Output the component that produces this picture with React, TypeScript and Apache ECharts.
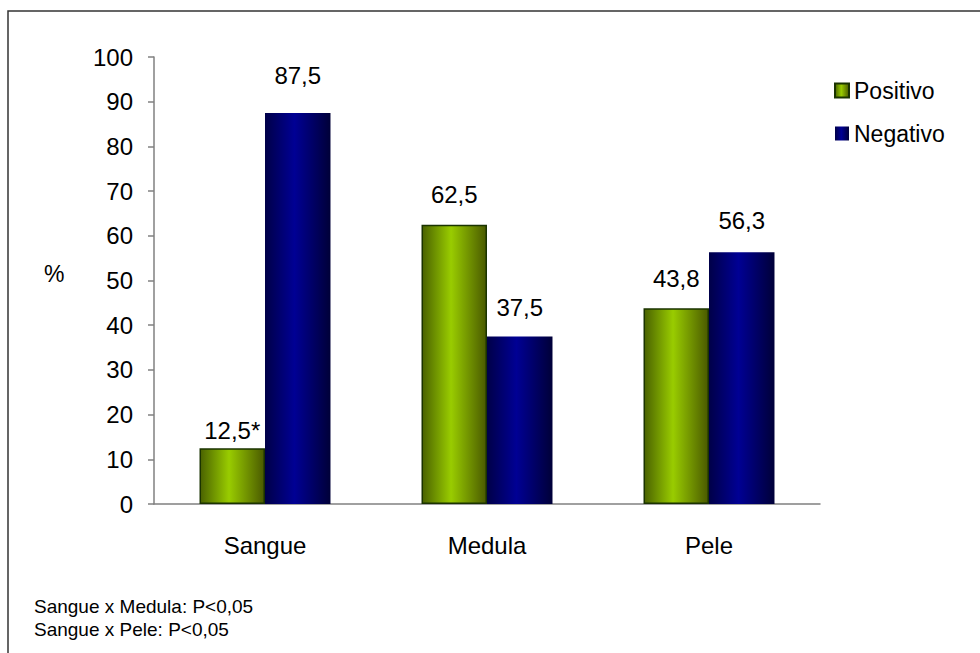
import React, { useEffect, useRef } from "react";
import * as echarts from "echarts";

const categories = ["Sangue", "Medula", "Pele"];
const positivo = [12.5, 62.5, 43.8];
const negativo = [87.5, 37.5, 56.3];
const positivoLabels = ["12,5*", "62,5", "43,8"];
const negativoLabels = ["87,5", "37,5", "56,3"];
const footnotes = ["Sangue x Medula: P<0,05", "Sangue x Pele: P<0,05"];

const FONT = "Liberation Sans, Arial, sans-serif";

export default function App() {
  const ref = useRef<HTMLDivElement>(null);
  useEffect(() => {
    if (!ref.current) return;
    const chart = echarts.init(ref.current, undefined, { renderer: "svg" });
    const green = new echarts.graphic.LinearGradient(0, 0, 1, 0, [
      { offset: 0, color: "#4a6200" },
      { offset: 0.45, color: "#99cc00" },
      { offset: 1, color: "#4a5a00" },
    ]);
    const blue = new echarts.graphic.LinearGradient(0, 0, 1, 0, [
      { offset: 0, color: "#000048" },
      { offset: 0.45, color: "#000094" },
      { offset: 1, color: "#000038" },
    ]);
    chart.setOption({
      animation: false,
      textStyle: { fontFamily: FONT },
      grid: { left: 154, right: 160, top: 57, bottom: 149 },
      legend: {
        orient: "vertical",
        left: 829,
        top: 74,
        itemWidth: 14,
        itemHeight: 14,
        itemGap: 20,
        icon: "rect",
        textStyle: { fontSize: 23, color: "#000", fontFamily: FONT },
        data: ["Positivo", "Negativo"],
      },
      xAxis: {
        type: "category",
        data: categories,
        axisLine: { lineStyle: { color: "#808080", width: 1.5 } },
        axisTick: { length: 6, lineStyle: { color: "#808080", width: 1.5 } },
        axisLabel: { fontSize: 24, color: "#000", margin: 29, fontFamily: FONT },
      },
      yAxis: {
        type: "value",
        min: 0,
        max: 100,
        interval: 10,
        splitLine: { show: false },
        axisLine: { show: true, lineStyle: { color: "#808080", width: 1.5 } },
        axisTick: { show: true, length: 6, lineStyle: { color: "#808080", width: 1.5 } },
        axisLabel: { fontSize: 24, color: "#000", margin: 21, fontFamily: FONT },
      },
      series: [
        {
          name: "Positivo",
          type: "bar",
          barGap: "0%",
          barCategoryGap: "41%",
          itemStyle: { color: green, borderColor: "#1a3300", borderWidth: 1.5 },
          label: {
            show: true,
            position: "top",
            distance: 18,
            fontSize: 24,
            color: "#000",
            fontFamily: FONT,
          },
          data: positivo.map((v, i) => ({
            value: v,
            label: { formatter: positivoLabels[i], distance: i === 0 ? 6 : 18 },
          })),
        },
        {
          name: "Negativo",
          type: "bar",
          itemStyle: { color: blue },
          label: {
            show: true,
            position: "top",
            distance: 20,
            fontSize: 24,
            color: "#000",
            fontFamily: FONT,
          },
          data: negativo.map((v, i) => ({
            value: v,
            label: { formatter: negativoLabels[i], distance: i === 0 ? 25 : i === 1 ? 17 : 20 },
          })),
        },
      ],
      graphic: [
        {
          type: "rect",
          shape: { x: 8, y: 11, width: 1000, height: 700 },
          style: { fill: "none", stroke: "#333", lineWidth: 1.5 },
          silent: true,
        },
        {
          type: "text",
          left: 44,
          top: 262,
          style: { text: "%", fontSize: 23, fill: "#000", fontFamily: FONT },
        },
        {
          type: "text",
          left: 34,
          top: 597,
          style: { text: footnotes[0], fontSize: 19, fill: "#000", fontFamily: FONT },
        },
        {
          type: "text",
          left: 34,
          top: 620,
          style: { text: footnotes[1], fontSize: 19, fill: "#000", fontFamily: FONT },
        },
      ],
    });
    return () => chart.dispose();
  }, []);
  return (
    <div
      ref={ref}
      style={{ position: "fixed", left: 0, top: 0, width: 980, height: 653, background: "#fff" }}
    />
  );
}
